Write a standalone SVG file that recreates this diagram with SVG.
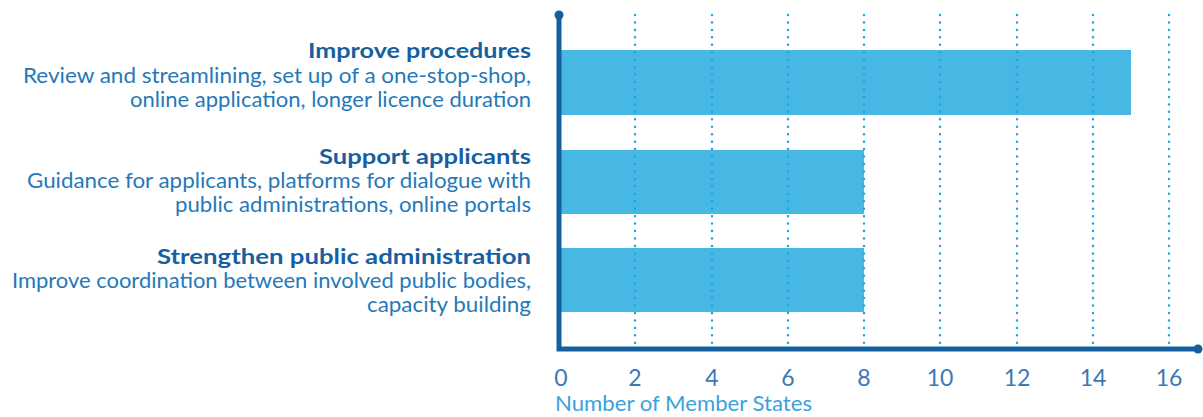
<svg xmlns="http://www.w3.org/2000/svg" width="1203" height="417" viewBox="0 0 1203 417">
<style>
.bar{fill:#47b7e4}
.grid{stroke:#1ca6e2;stroke-width:2.5;stroke-dasharray:0 7.45;stroke-linecap:round;fill:none}
.axis{stroke:#14609f;stroke-width:5;fill:none}
.t{font-family:Lato,"Liberation Sans",sans-serif;font-size:20.5px;font-weight:700;fill:#17609f;text-anchor:end}
.d{font-family:Lato,"Liberation Sans",sans-serif;font-size:20.5px;fill:#2579b8;text-anchor:end}
.tk{font-family:Lato,"Liberation Sans",sans-serif;font-size:23px;fill:#3a78b6;text-anchor:middle}
.ax{font-family:Lato,"Liberation Sans",sans-serif;font-size:20.5px;fill:#3aa2dd}
</style>
<rect width="1203" height="417" fill="#fff"/>
<g id="bars">
<rect class="bar" x="559" y="50" width="572" height="65"/>
<rect class="bar" x="559" y="150" width="305" height="64"/>
<rect class="bar" x="559" y="248" width="305" height="64"/>
</g>
<g id="grid">
<path class="grid" d="M635 15V346M712 15V346M788 15V346M864 15V346M940 15V346M1017 15V346M1093 15V346M1169 15V346"/>
</g>
<g id="axes">
<path class="axis" d="M559 15V349H1197"/>
<circle cx="559" cy="15" r="4.5" fill="#14609f"/>
<circle cx="1198" cy="349" r="4.5" fill="#14609f"/>
</g>
<g id="n1">
<text class="t" x="531" y="58" textLength="223" lengthAdjust="spacingAndGlyphs">Improve procedures</text>
<text class="d" x="531" y="83" textLength="508" lengthAdjust="spacingAndGlyphs">Review and streamlining, set up of a one-stop-shop,</text>
<text class="d" x="531" y="107" textLength="401" lengthAdjust="spacingAndGlyphs">online application, longer licence duration</text>
</g>
<g id="n2">
<text class="t" x="531" y="164" textLength="212" lengthAdjust="spacingAndGlyphs">Support applicants</text>
<text class="d" x="531" y="188" textLength="504" lengthAdjust="spacingAndGlyphs">Guidance for applicants, platforms for dialogue with</text>
<text class="d" x="531" y="212" textLength="356" lengthAdjust="spacingAndGlyphs">public administrations, online portals</text>
</g>
<g id="n3">
<text class="t" x="531" y="264" textLength="374" lengthAdjust="spacingAndGlyphs">Strengthen public administration</text>
<text class="d" x="531" y="288" textLength="519" lengthAdjust="spacingAndGlyphs">Improve coordination between involved public bodies,</text>
<text class="d" x="531" y="312" textLength="164" lengthAdjust="spacingAndGlyphs">capacity building</text>
</g>
<g id="ticks">
<text class="tk" x="561" y="386">0</text>
<text class="tk" x="635" y="386">2</text>
<text class="tk" x="712" y="386">4</text>
<text class="tk" x="788" y="386">6</text>
<text class="tk" x="864" y="386">8</text>
<text class="tk" x="940" y="386">10</text>
<text class="tk" x="1017" y="386">12</text>
<text class="tk" x="1093" y="386">14</text>
<text class="tk" x="1169" y="386">16</text>
</g>
<text class="ax" x="555" y="411" textLength="257" lengthAdjust="spacingAndGlyphs">Number of Member States</text>
</svg>
